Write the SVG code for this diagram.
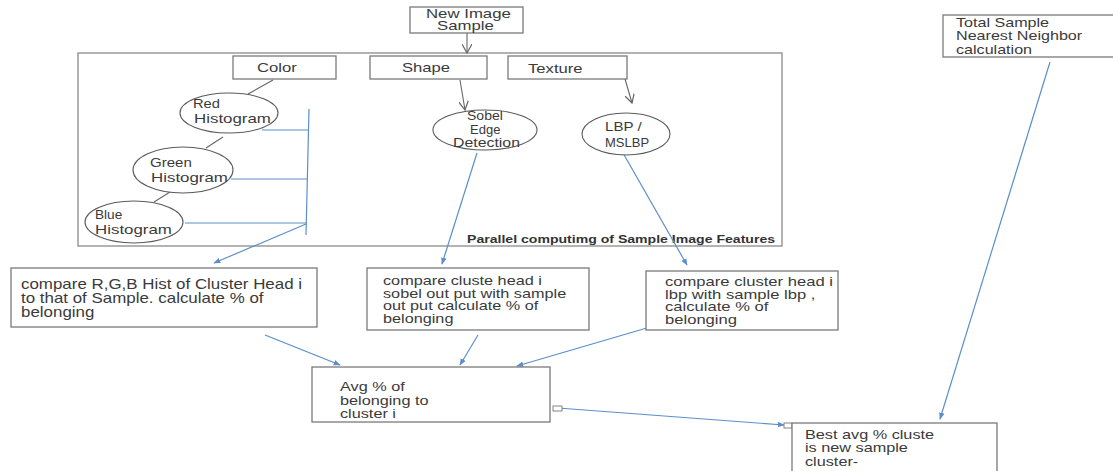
<svg xmlns="http://www.w3.org/2000/svg" width="1113" height="471" viewBox="0 0 1113 471">
<style>
.box{fill:#fff;stroke:#7a7a7a;stroke-width:1.3}
.frame{fill:none;stroke:#8a8a8a;stroke-width:1.3}
.ell{fill:#fff;stroke:#5a5a5a;stroke-width:1.1}
.t{font-family:"Liberation Sans",Arial,sans-serif;font-size:13px;fill:#3a3a3a}
.ts{font-family:"Liberation Sans",Arial,sans-serif;font-size:12.5px;fill:#3a3a3a}
.th{font-family:"Liberation Sans",Arial,sans-serif;font-size:12px;fill:#3a3a3a}
.tl{font-family:"Liberation Sans",Arial,sans-serif;font-size:14px;fill:#3a3a3a}
.cap{font-family:"Liberation Sans",Arial,sans-serif;font-size:11px;font-weight:bold;fill:#333}
.g{stroke:#666;stroke-width:1.1;fill:none}
.b{stroke:#5b8fc9;stroke-width:1.2;fill:none}
.ba{stroke:#5b8fc9;stroke-width:1.2;fill:none;marker-end:url(#bh)}
.ga{stroke:#666;stroke-width:1.1;fill:none;marker-end:url(#gh)}
</style>
<defs>
<marker id="bh" viewBox="0 0 10 10" refX="9" refY="5" markerWidth="7" markerHeight="7" orient="auto" markerUnits="userSpaceOnUse">
<path d="M0,1 L10,5 L0,9 z" fill="#5b8fc9"/>
</marker>
<marker id="gh" viewBox="0 0 10 10" refX="9" refY="5" markerWidth="10" markerHeight="10" orient="auto" markerUnits="userSpaceOnUse">
<path d="M0,0 L9,5 L0,10" fill="none" stroke="#666" stroke-width="1.2"/>
</marker>
</defs>
<rect width="1113" height="471" fill="#fff"/>

<g id="frame">
<rect class="frame" x="78" y="53" width="704" height="193"/>
<text class="cap" transform="translate(467 243) scale(1.28 1)">Parallel computimg of Sample Image Features</text>
</g>

<g id="connectors">
<line class="ga" x1="467" y1="33" x2="467" y2="53"/>
<line class="ga" x1="460" y1="80" x2="465" y2="110"/>
<line class="ga" x1="625" y1="79" x2="632" y2="103"/>
<line class="g" x1="273" y1="80" x2="248" y2="94"/>
<line class="g" x1="223" y1="137" x2="206" y2="148"/>
<line class="g" x1="170" y1="192" x2="154" y2="202"/>
<line class="b" x1="309" y1="109" x2="306" y2="235"/>
<line class="b" x1="262" y1="130" x2="308" y2="130"/>
<line class="b" x1="231" y1="179" x2="307" y2="179"/>
<line class="b" x1="185" y1="223" x2="306" y2="223"/>
<line class="ba" x1="306" y1="224" x2="214" y2="263"/>
<line class="ba" x1="477" y1="153" x2="442" y2="264"/>
<line class="ba" x1="623" y1="153" x2="687" y2="265"/>
<line class="ba" x1="265" y1="335" x2="340" y2="365"/>
<line class="ba" x1="478" y1="335" x2="460" y2="365"/>
<line class="ba" x1="657" y1="325" x2="517" y2="366"/>
<line class="ba" x1="558" y1="408" x2="784" y2="425"/>
<rect x="553" y="406" width="9" height="5" fill="#fff" stroke="#777" stroke-width="0.9"/>
<rect x="784" y="423" width="8" height="5" fill="#fff" stroke="#777" stroke-width="0.9"/>
<line class="ba" x1="1050" y1="62" x2="940" y2="419"/>
</g>

<g id="new-image-sample">
<rect class="box" x="410" y="7" width="113" height="26"/>
<text class="th" transform="translate(426 18) scale(1.4 1)">New Image</text>
<text class="th" transform="translate(437 30) scale(1.4 1)">Sample</text>
</g>

<g id="color">
<rect class="box" x="233" y="56" width="103" height="23"/>
<text class="t" transform="translate(257 72) scale(1.28 1)">Color</text>
</g>

<g id="shape">
<rect class="box" x="370" y="56" width="117" height="23"/>
<text class="t" transform="translate(402 72) scale(1.28 1)">Shape</text>
</g>

<g id="texture">
<rect class="box" x="508" y="56" width="119" height="23"/>
<text class="t" transform="translate(528 73) scale(1.28 1)">Texture</text>
</g>

<g id="red-histogram">
<ellipse class="ell" cx="229" cy="113" rx="49" ry="20"/>
<text class="t" transform="translate(193 108) scale(1.13 1)">Red</text>
<text class="t" transform="translate(194 123) scale(1.3 1)">Histogram</text>
</g>

<g id="green-histogram">
<ellipse class="ell" cx="183" cy="170" rx="50" ry="23"/>
<text class="t" transform="translate(150 167) scale(1.16 1)">Green</text>
<text class="t" transform="translate(151 182) scale(1.3 1)">Histogram</text>
</g>

<g id="blue-histogram">
<ellipse class="ell" cx="134" cy="222" rx="49" ry="21"/>
<text class="t" transform="translate(95 219) scale(1.05 1)">Blue</text>
<text class="t" transform="translate(95 234) scale(1.3 1)">Histogram</text>
</g>

<g id="sobel">
<ellipse class="ell" cx="485" cy="130" rx="52" ry="20"/>
<text class="t" transform="translate(467 120) scale(1.08 1)">Sobel</text>
<text class="t" transform="translate(470 134) scale(1.0 1)">Edge</text>
<text class="t" transform="translate(453 147) scale(1.22 1)">Detection</text>
</g>

<g id="lbp">
<ellipse class="ell" cx="626" cy="134" rx="44" ry="21"/>
<text class="t" transform="translate(605 131) scale(1.16 1)">LBP /</text>
<text class="t" transform="translate(605 147) scale(1.0 1)">MSLBP</text>
</g>

<g id="compare-rgb">
<rect class="box" x="11" y="268" width="306" height="59"/>
<text class="tl" transform="translate(21 289) scale(1.21 1)">compare R,G,B Hist of Cluster Head i</text>
<text class="tl" transform="translate(21 303) scale(1.21 1)">to that of Sample. calculate % of</text>
<text class="tl" transform="translate(21 317) scale(1.21 1)">belonging</text>
</g>

<g id="compare-sobel">
<rect class="box" x="367" y="268" width="222" height="62"/>
<text class="ts" transform="translate(383 285) scale(1.3 1)">compare cluste head i</text>
<text class="ts" transform="translate(383 297.5) scale(1.3 1)">sobel out put with sample</text>
<text class="ts" transform="translate(383 310) scale(1.3 1)">out put calculate % of</text>
<text class="ts" transform="translate(383 322.5) scale(1.3 1)">belonging</text>
</g>

<g id="compare-lbp">
<rect class="box" x="646" y="271" width="192" height="59"/>
<text class="ts" transform="translate(665 286) scale(1.33 1)">compare cluster head i</text>
<text class="ts" transform="translate(665 298.5) scale(1.33 1)">lbp with sample lbp ,</text>
<text class="ts" transform="translate(665 311) scale(1.33 1)">calculate % of</text>
<text class="ts" transform="translate(665 323.5) scale(1.33 1)">belonging</text>
</g>

<g id="avg">
<rect class="box" x="312" y="367" width="238" height="55"/>
<text class="t" transform="translate(340 391) scale(1.25 1)">Avg % of</text>
<text class="t" transform="translate(340 405) scale(1.25 1)">belonging to</text>
<text class="t" transform="translate(340 418) scale(1.25 1)">cluster i</text>
</g>

<g id="best">
<rect class="box" x="792" y="423" width="205" height="52"/>
<text class="t" transform="translate(805 439) scale(1.25 1)">Best avg % cluste</text>
<text class="t" transform="translate(805 452) scale(1.25 1)">is new sample</text>
<text class="t" transform="translate(805 466) scale(1.25 1)">cluster-</text>
</g>

<g id="total-sample">
<rect class="box" x="943" y="15" width="172" height="42"/>
<text class="t" transform="translate(956 27) scale(1.24 1)">Total Sample</text>
<text class="t" transform="translate(956 40) scale(1.24 1)">Nearest Neighbor</text>
<text class="t" transform="translate(956 54) scale(1.24 1)">calculation</text>
</g>
</svg>
